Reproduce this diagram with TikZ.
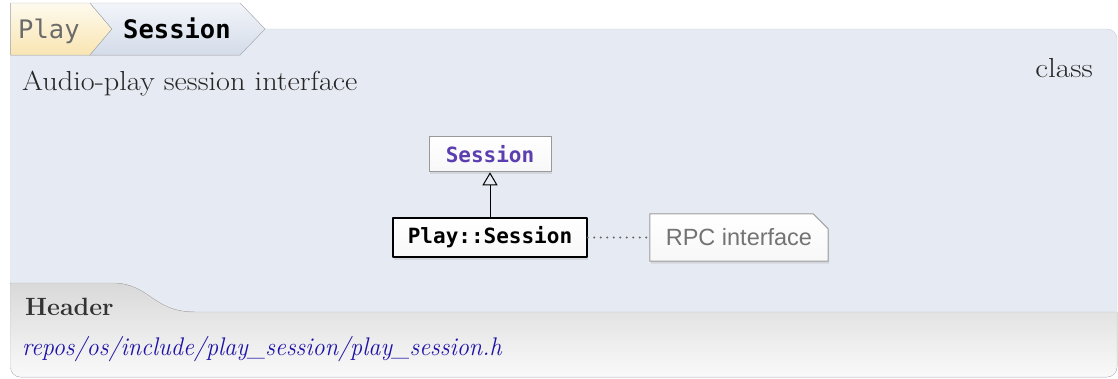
\documentclass[tikz,border=0pt]{standalone}
\usepackage{fontspec}
\setmonofont{DejaVu Sans Mono}
\newfontfamily\notefont{Liberation Sans}
\usetikzlibrary{positioning,shadows,arrows.meta}
\definecolor{panelbg}{HTML}{E6EAF2}
\definecolor{panelline}{HTML}{C9CDD4}
\definecolor{crumbline}{HTML}{B4B8BE}
\definecolor{basepurple}{HTML}{5B3FB0}
\definecolor{linkblue}{HTML}{1E12A6}
\begin{document}
\begin{tikzpicture}[x=1pt,y=-1pt,line join=round,
		softshadow/.style={drop shadow={shadow xshift=1pt,shadow yshift=-2.5pt,opacity=0.18}},
		classbox/.style={inner sep=0pt,font=\ttfamily\bfseries\fontsize{21}{25}\selectfont,top color=white,bottom color=gray!6,softshadow},
		notebox/.style={inner sep=0pt,minimum width=178pt,minimum height=47pt,font=\notefont\fontsize{23.5}{28}\selectfont,text=black!55}]
	\useasboundingbox (0,0) rectangle (1118,378);
	% panel and header part
	\fill[panelbg,rounded corners=10pt] (10.5,29) -- (10.5,377) -- (1117,377) -- (1117,29) -- cycle;
	\begin{scope}
		\clip[rounded corners=10pt] (10.5,29) -- (10.5,377) -- (1117,377) -- (1117,29) -- cycle;
		\fill[top color=black!15,bottom color=black!2] (0,283) -- (112,283) .. controls (150,283) and (152,312) .. (195,312) -- (1118,312) -- (1118,378) -- (0,378) -- cycle;
	\end{scope}
	\draw[black!25] (10.5,283) -- (112,283) .. controls (150,283) and (152,312) .. (195,312) -- (1117,312);
	\draw[panelline,rounded corners=10pt] (10.5,55) -- (10.5,377) -- (1117,377) -- (1117,29) -- (265,29);
	% breadcrumb
	\filldraw[draw=crumbline,top color={rgb,255:red,253;green,250;blue,238},bottom color={rgb,255:red,250;green,229;blue,178}] (10.5,3) -- (90,3) -- (112,29) -- (90,55) -- (10.5,55) -- cycle;
	\filldraw[draw=crumbline,top color={rgb,255:red,242;green,245;blue,250},bottom color={rgb,255:red,212;green,220;blue,233}] (90,3) -- (240,3) -- (265,29) -- (240,55) -- (90,55) -- (112,29) -- cycle;
	\node[anchor=base west,inner sep=0pt,text=black!58,font=\ttfamily\fontsize{25.5}{30}\selectfont] (crumbplay) at (18,38) {Play};
	\node[anchor=base west,inner sep=0pt,font=\ttfamily\bfseries\fontsize{25.5}{30}\selectfont] (crumbsession) at (123,38) {Session};
	% texts
	\node[anchor=base west,inner sep=0pt,font=\fontsize{27.5}{32}\selectfont,text=black!85] (brief) at (22,90) {\scalebox{1.1}[1]{Audio-play session interface}};
	\node[anchor=base east,inner sep=0pt,font=\fontsize{27.5}{32}\selectfont,text=black!85] (kind) at (1093,77) {\scalebox{1.14}[1]{class}};
	\node[anchor=base west,inner sep=0pt,font=\bfseries\fontsize{25}{30}\selectfont,text=black!80] (header) at (25,315) {Header};
	\node[anchor=base west,inner sep=0pt,font=\itshape\fontsize{25.5}{31}\selectfont,text=linkblue] (path) at (22,355) {\scalebox{0.95}[1]{repos/os/include/play\_session/play\_session.h}};
	% diagram
	\node[classbox,draw=black,line width=1.5pt,minimum width=194pt,minimum height=39pt] (cls) at (490,237.5) {Play::Session};
	\node[classbox,draw=black!40,line width=1pt,minimum width=122pt,minimum height=35pt,text=basepurple,above=45pt of cls] (base) {Session\hspace{6pt}};
	\node[notebox,right=62pt of cls] (note) {};
	\filldraw[draw=black!35,line width=1pt,top color=white,bottom color=gray!6,softshadow] (note.south west) -- (note.north west) -- ([xshift=-15pt]note.north east) -- ([yshift=-15pt]note.north east) -- (note.south east) -- cycle;
	\node[notebox] at (note) {RPC interface};
	\draw[-{Triangle[open,width=15pt,length=13pt]},line width=1pt] (cls) -- (base);
	\draw[black!60,line width=2.3pt,line cap=round,dash pattern=on 0pt off 6.5pt] (cls) -- (note);
\end{tikzpicture}
\end{document}
